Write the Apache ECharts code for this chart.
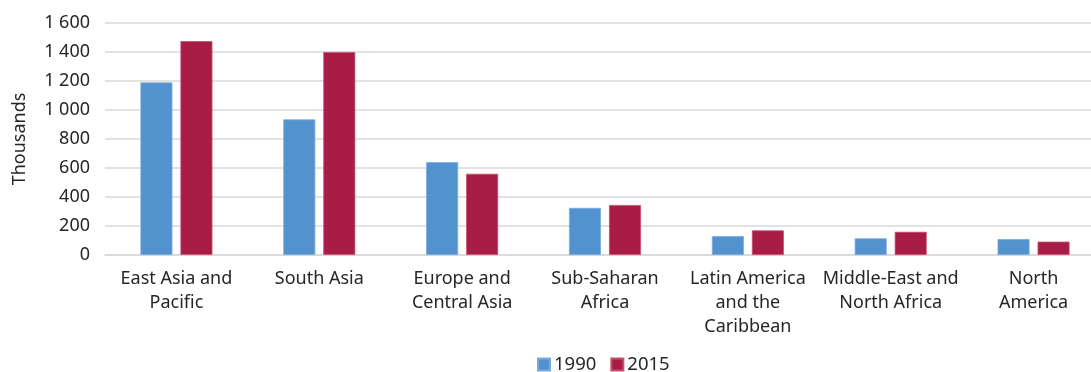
<!DOCTYPE html>
<html>
<head>
<meta charset="utf-8">
<script src="https://cdn.jsdelivr.net/npm/echarts@6/dist/echarts.min.js"></script>
<style>
  html, body { margin: 0; padding: 0; background: #fff; overflow: hidden; }
  /* plot area runs a little past the right edge of the window */
  #chart { width: 1105px; height: 372px; }
</style>
</head>
<body>
<div id="chart"></div>
<script>
// Regions (line breaks as shown under the axis)
const categories = [
  'East Asia and\nPacific',
  'South Asia',
  'Europe and\nCentral Asia',
  'Sub-Saharan\nAfrica',
  'Latin America\nand the\nCaribbean',
  'Middle-East and\nNorth Africa',
  'North\nAmerica'
];
// Values in thousands
const values1990 = [1190, 935, 640, 325, 130, 115, 110];
const values2015 = [1475, 1400, 560, 345, 170, 160, 92];
const yTicks = { min: 0, max: 1600, interval: 200 };

const FONT = '"Noto Sans", sans-serif';
const TEXT = '#262626';

const chart = echarts.init(document.getElementById('chart'), null, { renderer: 'canvas' });

function spaced(v) {
  return String(v).replace(/\B(?=(\d{3})+(?!\d))/g, ' ');
}

chart.setOption({
  animation: false,
  backgroundColor: '#ffffff',
  textStyle: { fontFamily: FONT, color: TEXT },
  grid: { left: 105, right: 0, top: 23, bottom: 117, containLabel: false },
  legend: {
    data: ['1990', '2015'],
    top: 355,
    left: 537,
    padding: 0,
    itemWidth: 12,
    itemHeight: 12,
    itemGap: 14,
    icon: 'rect',
    textStyle: { fontFamily: FONT, fontSize: 18.5, color: TEXT, padding: [0, 0, 0, -1] }
  },
  xAxis: {
    type: 'category',
    data: categories,
    axisLine: { lineStyle: { color: '#d9d9d9', width: 1.5 } },
    axisTick: { show: false },
    axisLabel: {
      fontFamily: FONT, fontSize: 18, color: TEXT,
      lineHeight: 24, margin: 12, interval: 0, align: 'center'
    }
  },
  yAxis: {
    type: 'value',
    min: yTicks.min, max: yTicks.max, interval: yTicks.interval,
    name: 'Thousands',
    nameLocation: 'middle',
    nameGap: 76,
    nameRotate: 90,
    nameTextStyle: { fontFamily: FONT, fontSize: 18, color: TEXT },
    axisLine: { show: false },
    axisTick: { show: false },
    axisLabel: {
      fontFamily: FONT, fontSize: 18, color: TEXT, margin: 15,
      formatter: v => spaced(v)
    },
    splitLine: { lineStyle: { color: '#d9d9d9', width: 1.5 } }
  },
  series: [
    {
      name: '1990', type: 'bar', data: values1990,
      barWidth: 32, barGap: '25%',
      itemStyle: { color: '#5292ce', borderColor: '#7aaadb', borderWidth: 0.8 }
    },
    {
      name: '2015', type: 'bar', data: values2015,
      barWidth: 32,
      itemStyle: { color: '#a81c46', borderColor: '#c3526f', borderWidth: 0.8 }
    }
  ]
});
</script>
</body>
</html>
